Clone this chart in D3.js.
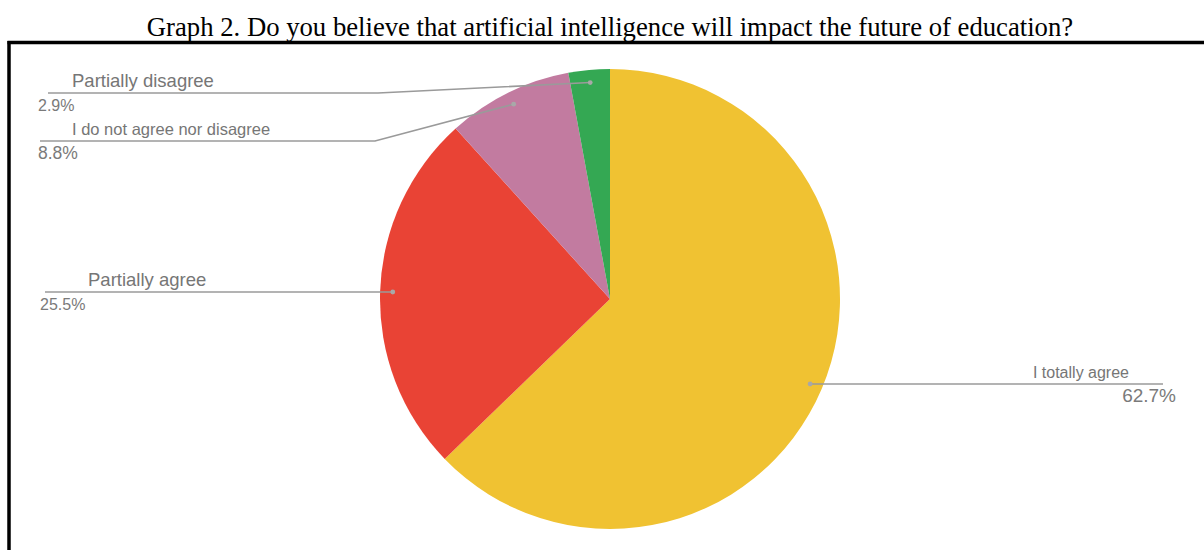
<!DOCTYPE html>
<html>
<head>
<meta charset="utf-8">
<script src="https://cdn.jsdelivr.net/npm/d3@7"></script>
<style>
  html, body { margin: 0; padding: 0; background: #fff; }
  svg { display: block; }
</style>
</head>
<body>
<svg id="chart" width="1204" height="550"></svg>
<script>
// Survey answers, in drawing order (clockwise from 12 o'clock)
const categories = ["I totally agree", "Partially agree", "I do not agree nor disagree", "Partially disagree"];
const shares = [62.7, 25.5, 8.8, 2.9];
const percentLabels = ["62.7%", "25.5%", "8.8%", "2.9%"];
const sliceColors = ["#F0C232", "#E94335", "#C27BA0", "#34A853"];

const titleText = "Graph 2. Do you believe that artificial intelligence will impact the future of education?";

// Label placement: side, y of the leader's horizontal run, outer end of the run,
// x where the run bends toward the slice, text x, percent x, font sizes
const labelLayout = [
  { side: "right", y: 384, outerX: 1163, bendX: null, textX: 1129, pctX: 1176, size: 16, pctSize: 19 },
  { side: "left",  y: 292, outerX: 45,   bendX: null, textX: 88,   pctX: 40,   size: 18.5, pctSize: 16 },
  { side: "left",  y: 141, outerX: 40,   bendX: 375,  textX: 72,   pctX: 38,   size: 16.5, pctSize: 17.5 },
  { side: "left",  y: 93,  outerX: 48,   bendX: 378,  textX: 72,   pctX: 38,   size: 18.5, pctSize: 16 }
];

const svg = d3.select("#chart");
const W = 1204, H = 550;
const cx = 610, cy = 299, R = 230;

// Title
svg.append("text")
  .attr("x", 610).attr("y", 36)
  .attr("text-anchor", "middle")
  .attr("font-family", "'Liberation Serif', 'Times New Roman', serif")
  .attr("font-size", 26.7)
  .attr("fill", "#000")
  .text(titleText);

// Frame (top and left edges)
svg.append("line").attr("x1", 7.5).attr("x2", W).attr("y1", 42.5).attr("y2", 42.5)
  .attr("stroke", "#000").attr("stroke-width", 3.5);
svg.append("line").attr("x1", 9).attr("x2", 9).attr("y1", 41).attr("y2", H)
  .attr("stroke", "#000").attr("stroke-width", 3.5);

// Pie
const pie = d3.pie().value(d => d).sort(null);
const arcs = pie(shares);
const arc = d3.arc().innerRadius(0).outerRadius(R);
const dotArc = d3.arc().innerRadius(R * 0.945).outerRadius(R * 0.945);

const g = svg.append("g").attr("transform", `translate(${cx},${cy})`);
g.selectAll("path.slice")
  .data(arcs)
  .join("path")
  .attr("class", "slice")
  .attr("d", arc)
  .attr("fill", (d, i) => sliceColors[i]);

// Leader lines, anchor dots, labels
const labelFont = "'Liberation Sans', Arial, sans-serif";
arcs.forEach((a, i) => {
  const L = labelLayout[i];
  const [dx, dy] = dotArc.centroid(a);
  const px = cx + dx, py = cy + dy;

  const pts = [[L.outerX, L.y]];
  if (L.bendX !== null) pts.push([L.bendX, L.y]);
  pts.push([px, L.bendX !== null ? py : L.y]);

  svg.append("path")
    .attr("d", d3.line()(pts))
    .attr("fill", "none")
    .attr("stroke", "#9a9a9a")
    .attr("stroke-width", 1.6);

  svg.append("circle")
    .attr("cx", px).attr("cy", L.bendX !== null ? py : L.y)
    .attr("r", 2.4)
    .attr("fill", "#a8a8a8");

  const anchor = L.side === "right" ? "end" : "start";
  svg.append("text")
    .attr("x", L.textX).attr("y", L.y - 6)
    .attr("text-anchor", anchor)
    .attr("font-family", labelFont)
    .attr("font-size", L.size)
    .attr("fill", "#767676")
    .text(categories[i]);

  svg.append("text")
    .attr("x", L.pctX).attr("y", L.y + 17.5)
    .attr("text-anchor", anchor)
    .attr("font-family", labelFont)
    .attr("font-size", L.pctSize)
    .attr("fill", "#7a7a7a")
    .text(percentLabels[i]);
});
</script>
</body>
</html>
